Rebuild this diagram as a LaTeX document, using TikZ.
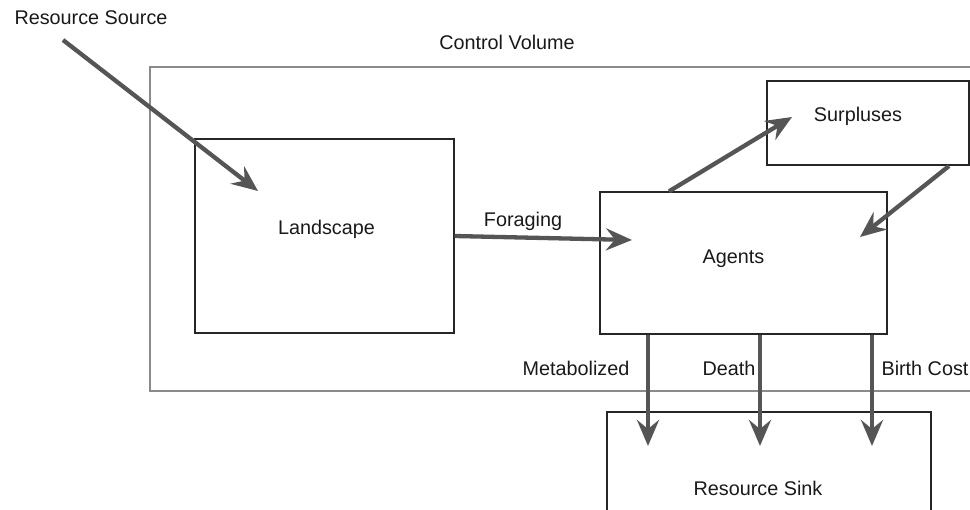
\documentclass[tikz,border=0pt]{standalone}
\usepackage{fontspec}
\setmainfont{Liberation Sans}
\usepackage{xcolor}
\usetikzlibrary{arrows.meta}

\definecolor{flowgray}{HTML}{555555}
\definecolor{cvgray}{HTML}{8A8A8A}

\tikzset{
  box/.style 2 args={draw=black!85, line width=1.3pt, minimum width=#1, minimum height=#2, inner sep=0pt},
  flow/.style={draw=flowgray, line width=4.3pt, -{Stealth[length=26pt,width=22pt,inset=9pt]}},
  txt/.style={text=black!90, inner sep=0pt}
}

\begin{document}
\begin{tikzpicture}[x=1pt, y=-1pt, font=\fontsize{19.8}{24}\selectfont]
  \useasboundingbox (0,0) rectangle (970,510);
  \clip (0,0) rectangle (970,510);

  % Draw the control volume and its title
  \node[draw=cvgray, line width=1.5pt, minimum width=850pt, minimum height=324pt, inner sep=0pt] (cv) at (575,229) {};
  \node[txt] (cvlabel) at (507,42) {Control Volume};

  % Draw the boxes
  \node[box={259pt}{194pt}, label={[txt, xshift=2pt, yshift=7pt]center:Landscape}] (landscape) at (324.5,236) {};
  \node[box={287pt}{142pt}, label={[txt, xshift=-10pt, yshift=4pt]center:Agents}] (agents) at (743.5,263) {};
  \node[box={202pt}{84pt}, label={[txt, xshift=-10pt, yshift=7pt]center:Surpluses}] (surpluses) at (868,123) {};
  \node[box={324pt}{150pt}, label={[txt, xshift=-11pt, yshift=-1pt]center:Resource Sink}] (sink) at (769,487) {};

  % Free ends of the flows
  \node[txt] (source) at (91,18) {Resource Source};
  \coordinate (srcstart) at (63,40);
  \coordinate (landin) at (258,191);
  \coordinate (agentsin) at (632,240);
  \coordinate (agentsout) at (669,0);
  \coordinate (surpin) at (792,117);
  \coordinate (surpout) at (949,166);
  \coordinate (agentsback) at (860,237);
  \coordinate (metab) at (648,446);
  \coordinate (death) at (760,446);
  \coordinate (birth) at (872,446);

  % Draw the flows
  \draw[flow] (srcstart) -- (landin);
  \draw[flow] (landscape.east) -- (agentsin);
  \draw[flow] (agents.north -| agentsout) -- (surpin);
  \draw[flow] (surpout) -- (agentsback);
  \draw[flow] (agents.south -| metab) -- (metab);
  \draw[flow] (agents.south -| death) -- (death);
  \draw[flow] (agents.south -| birth) -- (birth);

  % Flow labels
  \node[txt] (forlabel) at (523,221) {Foraging};
  \node[txt] (metlabel) at (576,368) {Metabolized};
  \node[txt] (dthlabel) at (729,368) {Death};
  \node[txt] (brtlabel) at (925,368) {Birth Cost};
\end{tikzpicture}
\end{document}
